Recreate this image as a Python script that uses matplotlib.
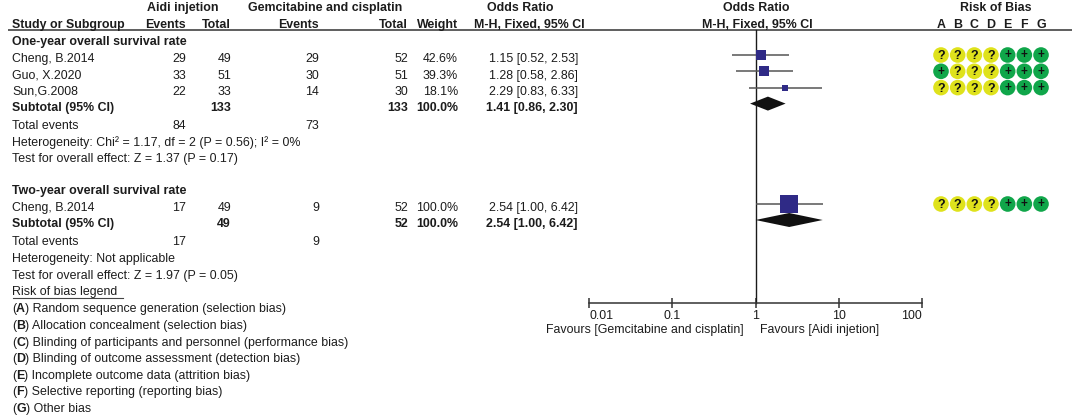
import matplotlib
matplotlib.use("Agg")
import matplotlib.pyplot as plt
from matplotlib.patches import Circle, Polygon

plt.rcParams['font.family'] = ['Liberation Sans', 'DejaVu Sans']

# ---------------- data ----------------
studies_1 = ['Cheng, B.2014', 'Guo, X.2020', 'Sun,G.2008']
aidi_events_1 = [29, 33, 22]
aidi_total_1 = [49, 51, 33]
gem_events_1 = [29, 30, 14]
gem_total_1 = [52, 51, 30]
weights_1 = [42.6, 39.3, 18.1]
or_1 = [1.15, 1.28, 2.29]
lo_1 = [0.52, 0.58, 0.83]
hi_1 = [2.53, 2.86, 6.33]
sub_1 = [1.41, 0.86, 2.30]
sub_tot_1 = [133, 133]
tot_events_1 = [84, 73]
het_1 = 'Heterogeneity: Chi² = 1.17, df = 2 (P = 0.56); I² = 0%'
test_1 = 'Test for overall effect: Z = 1.37 (P = 0.17)'

studies_2 = ['Cheng, B.2014']
aidi_events_2 = [17]
aidi_total_2 = [49]
gem_events_2 = [9]
gem_total_2 = [52]
weights_2 = [100.0]
or_2 = [2.54]
lo_2 = [1.00]
hi_2 = [6.42]
sub_2 = [2.54, 1.00, 6.42]
sub_tot_2 = [49, 52]
tot_events_2 = [17, 9]
het_2 = 'Heterogeneity: Not applicable'
test_2 = 'Test for overall effect: Z = 1.97 (P = 0.05)'

rob_letters = ['A', 'B', 'C', 'D', 'E', 'F', 'G']
rob_1 = [['?', '?', '?', '?', '+', '+', '+'],
         ['+', '?', '?', '?', '+', '+', '+'],
         ['?', '?', '?', '?', '+', '+', '+']]
rob_2 = [['?', '?', '?', '?', '+', '+', '+']]

legend_items = [('A', 'Random sequence generation (selection bias)'),
                ('B', 'Allocation concealment (selection bias)'),
                ('C', 'Blinding of participants and personnel (performance bias)'),
                ('D', 'Blinding of outcome assessment (detection bias)'),
                ('E', 'Incomplete outcome data (attrition bias)'),
                ('F', 'Selective reporting (reporting bias)'),
                ('G', 'Other bias')]

ticks = [0.01, 0.1, 1, 10, 100]
tick_labels = ['0.01', '0.1', '1', '10', '100']
fav_left = 'Favours [Gemcitabine and cisplatin]'
fav_right = 'Favours [Aidi injetion]'

# ---------------- style ----------------
W, H = 1072, 415
FS = 8.9
TXT = '#1c1c1c'
SQ = '#2f2a86'
YEL = '#dfe21c'
GRN = '#10a64a'
CAP = 4.4  # half cap height in px

fig = plt.figure(figsize=(W / 100, H / 100), dpi=100)
ax = fig.add_axes([0, 0, 1, 1])
ax.set_xlim(0, W)
ax.set_ylim(H, 0)
ax.axis('off')

# forest axes: log scale, x=0.01 -> px 589, x=100 -> px 922
FX0, FX1 = 589, 922
axf = fig.add_axes([FX0 / W, 0, (FX1 - FX0) / W, 1])
axf.set_xscale('log')
axf.set_xlim(0.01, 100)
axf.set_ylim(H, 0)
axf.patch.set_alpha(0)
for s in ['top', 'left', 'right']:
    axf.spines[s].set_visible(False)
AXY = 303
axf.spines['bottom'].set_position(('data', AXY))
axf.spines['bottom'].set_color('#333333')
axf.spines['bottom'].set_linewidth(1.1)
axf.set_xticks(ticks)
axf.set_xticklabels(tick_labels, fontsize=FS, color=TXT)
axf.minorticks_off()
axf.tick_params(axis='x', direction='inout', length=7, width=1.1, color='#333333', pad=1.5)
axf.set_yticks([])
tl = axf.get_xticklabels()
tl[0].set_ha('left')
tl[-1].set_ha('right')


def txt(x, y, s, ha='left', bold=False, **kw):
    ax.text(x, y + CAP, s, ha=ha, va='baseline', fontsize=FS,
            fontweight='bold' if bold else 'normal', color=TXT, **kw)


# columns (right edges)
C_LAB = 12
C_AE, C_AT, C_GE, C_GT, C_W, C_OR = 186, 231, 319, 408, 458, 578

# headers
txt(183, 7, 'Aidi injetion', ha='center', bold=True)
txt(325, 7, 'Gemcitabine and cisplatin', ha='center', bold=True)
txt(520, 7, 'Odds Ratio', ha='center', bold=True)
txt(756, 7, 'Odds Ratio', ha='center', bold=True)
txt(996, 7, 'Risk of Bias', ha='center', bold=True)
txt(C_LAB, 24, 'Study or Subgroup', bold=True)
txt(C_AE, 24, 'Events', ha='right', bold=True)
txt(C_AT, 24, 'Total', ha='right', bold=True)
txt(C_GE, 24, 'Events', ha='right', bold=True)
txt(C_GT, 24, 'Total', ha='right', bold=True)
txt(C_W, 24, 'Weight', ha='right', bold=True)
txt(529, 24, 'M-H, Fixed, 95% CI', ha='center', bold=True)
txt(757, 24, 'M-H, Fixed, 95% CI', ha='center', bold=True)
rob_x = [941 + i * 16.67 for i in range(len(rob_letters))]
for xx, L in zip(rob_x, rob_letters):
    txt(xx, 24, L, ha='center', bold=True)
ax.plot([8, W], [30, 30], color='#333333', lw=1.1, solid_capstyle='butt')

# vertical line at OR = 1
axf.plot([1, 1], [30, AXY], color='#1a1a1a', lw=1.0)


def fmt_ci(v):
    return f'{v[0]:.2f} [{v[1]:.2f}, {v[2]:.2f}]'


def group(title, y0, studies, ae, at, ge, gt, w, o, lo, hi, sub, subt, tev,
          het, test, rob):
    txt(C_LAB, y0, title, bold=True)
    ys = [y0 + 17 + 16.3 * i for i in range(len(studies))]
    for i, yy in enumerate(ys):
        txt(C_LAB, yy, studies[i])
        txt(C_AE, yy, str(ae[i]), ha='right')
        txt(C_AT, yy, str(at[i]), ha='right')
        txt(C_GE, yy, str(ge[i]), ha='right')
        txt(C_GT, yy, str(gt[i]), ha='right')
        txt(C_W, yy, f'{w[i]:.1f}%', ha='right')
        txt(C_OR, yy, fmt_ci((o[i], lo[i], hi[i])), ha='right')
        ym = yy - 3
        axf.plot([lo[i], hi[i]], [ym, ym], color='#555555', lw=1.1,
                 solid_capstyle='butt', zorder=2)
        side = 3 + 15.5 * w[i] / 100.0
        axf.plot([o[i]], [ym], marker='s', ms=side * 0.72, mew=0, color=SQ,
                 zorder=3)
        for j, r in enumerate(rob[i]):
            c = YEL if r == '?' else GRN
            ax.add_patch(Circle((rob_x[j], ym), 7.8, color=c, lw=0, zorder=3))
            ax.text(rob_x[j], ym + (4.0 if r == '?' else 3.4), r, ha='center',
                    va='baseline', fontsize=9 if r == '?' else 8.5,
                    fontweight='bold', color='#111111', zorder=4)
    ysub = ys[-1] + 16
    txt(C_LAB, ysub, 'Subtotal (95% CI)', bold=True)
    txt(C_AT, ysub, str(subt[0]), ha='right', bold=True)
    txt(C_GT, ysub, str(subt[1]), ha='right', bold=True)
    txt(C_W, ysub, '100.0%', ha='right', bold=True)
    txt(C_OR, ysub, fmt_ci(sub), ha='right', bold=True)
    yd = ysub - 3
    hh = 7
    axf.add_patch(Polygon([(sub[1], yd), (sub[0], yd - hh), (sub[2], yd),
                           (sub[0], yd + hh)], closed=True, color='#111111',
                          lw=0, zorder=4))
    yt = ysub + 18
    txt(C_LAB, yt, 'Total events')
    txt(C_AE, yt, str(tev[0]), ha='right')
    txt(C_GE, yt, str(tev[1]), ha='right')
    txt(C_LAB, yt + 16.7, het)
    txt(C_LAB, yt + 33.3, test)
    return yt + 33.3


group('One-year overall survival rate', 41, studies_1, aidi_events_1,
      aidi_total_1, gem_events_1, gem_total_1, weights_1, or_1, lo_1, hi_1,
      sub_1, sub_tot_1, tot_events_1, het_1, test_1, rob_1)
yend = group('Two-year overall survival rate', 190, studies_2, aidi_events_2,
             aidi_total_2, gem_events_2, gem_total_2, weights_2, or_2, lo_2,
             hi_2, sub_2, sub_tot_2, tot_events_2, het_2, test_2, rob_2)

# risk of bias legend
yl = yend + 16.7
txt(C_LAB, yl, 'Risk of bias legend')
ax.plot([C_LAB + 1, 123], [yl + 7, yl + 7], color='#444444', lw=0.8)
for k, (L, desc) in enumerate(legend_items):
    yy = yl + 17 + 16.6 * k
    t = ax.text(C_LAB, yy + CAP, '(', ha='left', va='baseline', fontsize=FS,
                color=TXT)
    ann = ax.annotate(L, xycoords=t, xy=(1, 0), va='bottom', ha='left',
                      fontsize=FS, fontweight='bold', color=TXT)
    ax.annotate(') ' + desc, xycoords=ann, xy=(1, 0), va='bottom', ha='left',
                fontsize=FS, color=TXT)

# favours labels
txt(744, 329, fav_left, ha='right')
txt(760, 329, fav_right, ha='left')

fig.savefig('out.png', dpi=100)
